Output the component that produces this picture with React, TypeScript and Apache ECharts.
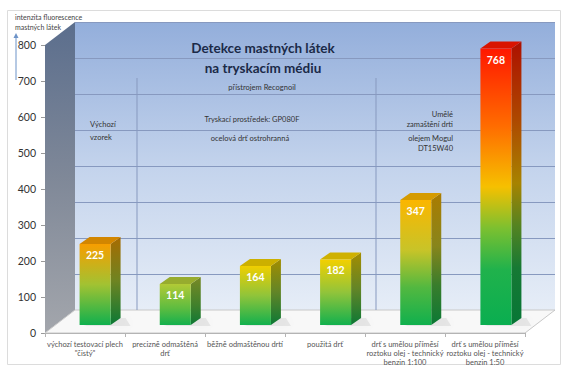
import React, { useEffect, useRef } from "react";
import * as echarts from "echarts";

const categories = [
  "výchozí testovací plech\n\"čistý\"",
  "precizně odmaštěná\ndrť",
  "běžně odmaštěnou drtí",
  "použitá drť",
  "drť s umělou příměsí\nroztoku olej - technický\nbenzin 1:100",
  "drť s umělou příměsí\nroztoku olej - technický\nbenzin 1:50",
];
const values = [225, 114, 164, 182, 347, 768];
const yTicks = { min: 0, max: 800, interval: 100 };

// per-bar gradient stops (top -> bottom)
const barStops: [number, string][][] = [
  [[0, "#f79e00"], [0.5, "#a2c232"], [1, "#10b04e"]],
  [[0, "#b2ca36"], [0.6, "#5cbc40"], [1, "#14b04e"]],
  [[0, "#f0cf00"], [0.5, "#90c43a"], [1, "#12b04e"]],
  [[0, "#f3d000"], [0.5, "#92c43a"], [1, "#12b04e"]],
  [[0, "#fbb600"], [0.4, "#c8c428"], [0.7, "#52b840"], [1, "#10b04e"]],
  [[0, "#ff1800"], [0.28, "#ff6c00"], [0.5, "#f6c000"], [0.65, "#7cc030"], [0.8, "#20b24c"], [1, "#0aae50"]],
];

const FONT = "Lato, 'Open Sans', sans-serif";

function shade(hex: string, f: number): string {
  const n = parseInt(hex.slice(1), 16);
  const r = Math.round(((n >> 16) & 255) * f);
  const g = Math.round(((n >> 8) & 255) * f);
  const b = Math.round((n & 255) * f);
  return "rgb(" + r + "," + g + "," + b + ")";
}

export default function App() {
  const ref = useRef<HTMLDivElement>(null);
  useEffect(() => {
    if (!ref.current) return;
    const chart = echarts.init(ref.current, null, { renderer: "svg" });
    const grad = (stops: [number, string][], f: number) =>
      new echarts.graphic.LinearGradient(
        0, 0, 0, 1,
        stops.map(([o, c]) => ({ offset: o, color: f === 1 ? c : shade(c, f) }))
      );

    const option: any = {
      animation: false,
      grid: [
        {
          left: 75, top: 22, width: 480, height: 288, show: true, borderWidth: 0,
          backgroundColor: new echarts.graphic.LinearGradient(0, 0, 0, 1, [
            { offset: 0, color: "#93aedb" },
            { offset: 0.5, color: "#c3d3ec" },
            { offset: 1, color: "#e6edf7" },
          ]),
        },
        { left: 45, top: 45, width: 480, height: 288 },
        { left: 55, top: 37, width: 481, height: 288 },
      ],
      xAxis: [
        { type: "category", gridIndex: 0, data: categories, show: false },
        {
          type: "category", gridIndex: 1, data: categories,
          axisLine: { show: true, lineStyle: { color: "#b4b4b4" } },
          axisTick: { show: true, length: 4, lineStyle: { color: "#b4b4b4" } },
          axisLabel: { interval: 0, fontSize: 7.5, lineHeight: 9, color: "#555", margin: 7, fontFamily: FONT },
          z: 6,
        },
        { type: "category", gridIndex: 2, data: categories, show: false },
      ],
      yAxis: [
        {
          type: "value", gridIndex: 0, ...yTicks,
          axisLabel: { show: false }, axisLine: { show: false }, axisTick: { show: false },
          splitLine: { show: true, lineStyle: { color: "#8799bf", width: 1 } },
        },
        {
          type: "value", gridIndex: 1, ...yTicks,
          axisLine: { show: false },
          axisTick: { show: true, length: 4, lineStyle: { color: "#999" } },
          axisLabel: { fontSize: 10.5, color: "#333", margin: 9, fontFamily: FONT },
          splitLine: { show: false },
        },
        { type: "value", gridIndex: 2, ...yTicks, show: false, splitLine: { show: false } },
      ],
      graphic: [
        // frame
        { type: "rect", shape: { x: 7.5, y: 10.5, width: 553, height: 354 }, style: { fill: "none", stroke: "#dcdcdc", lineWidth: 1 }, z: 1 },
        // side wall
        {
          type: "polygon", z: 1,
          shape: { points: [[45, 45], [75, 22], [75, 310], [45, 333]] },
          style: {
            fill: new echarts.graphic.LinearGradient(0, 0, 0, 1, [
              { offset: 0, color: "#5b6e8d" },
              { offset: 0.5, color: "#7f8898" },
              { offset: 1, color: "#a3a6ac" },
            ]),
          },
        },
        // floor
        {
          type: "polygon", z: 1,
          shape: { points: [[45, 333], [525, 333], [555, 310], [75, 310]] },
          style: { fill: "#f8f8f8", stroke: "#c8c8c8", lineWidth: 1 },
        },
        // group separators on back wall
        { type: "line", z: 2, shape: { x1: 137, y1: 78, x2: 137, y2: 310 }, style: { stroke: "#8799bf", lineWidth: 1 } },
        { type: "line", z: 2, shape: { x1: 376, y1: 78, x2: 376, y2: 310 }, style: { stroke: "#8799bf", lineWidth: 1 } },
        // title
        { type: "text", z: 5, style: { text: "Detekce mastných látek", x: 263, y: 48, align: "center", verticalAlign: "middle", font: "bold 13.5px " + FONT, fill: "#1b2a48" } },
        { type: "text", z: 5, style: { text: "na tryskacím médiu", x: 263, y: 68, align: "center", verticalAlign: "middle", font: "bold 13.5px " + FONT, fill: "#1b2a48" } },
        { type: "text", z: 5, style: { text: "přístrojem Recognoil", x: 262, y: 87, align: "center", verticalAlign: "middle", font: "7.5px " + FONT, fill: "#333" } },
        { type: "text", z: 5, style: { text: "Tryskací prostředek: GP080F", x: 252, y: 119, align: "center", verticalAlign: "middle", font: "7.5px " + FONT, fill: "#333" } },
        { type: "text", z: 5, style: { text: "ocelová drť ostrohranná", x: 250, y: 138, align: "center", verticalAlign: "middle", font: "7.5px " + FONT, fill: "#333" } },
        { type: "text", z: 5, style: { text: "Výchozí", x: 90, y: 124, align: "left", verticalAlign: "middle", font: "7.5px " + FONT, fill: "#333" } },
        { type: "text", z: 5, style: { text: "vzorek", x: 90, y: 137, align: "left", verticalAlign: "middle", font: "7.5px " + FONT, fill: "#333" } },
        { type: "text", z: 5, style: { text: "Umělé", x: 453, y: 114, align: "right", verticalAlign: "middle", font: "7.5px " + FONT, fill: "#333" } },
        { type: "text", z: 5, style: { text: "zamaštění drti", x: 453, y: 124, align: "right", verticalAlign: "middle", font: "7.5px " + FONT, fill: "#333" } },
        { type: "text", z: 5, style: { text: "olejem Mogul", x: 453, y: 138, align: "right", verticalAlign: "middle", font: "7.5px " + FONT, fill: "#333" } },
        { type: "text", z: 5, style: { text: "DT15W40", x: 453, y: 148, align: "right", verticalAlign: "middle", font: "7.5px " + FONT, fill: "#333" } },
        // y axis title
        { type: "text", z: 5, style: { text: "intenzita fluorescence", x: 15, y: 17, align: "left", verticalAlign: "middle", font: "7px " + FONT, fill: "#444" } },
        { type: "text", z: 5, style: { text: "mastných látek", x: 15, y: 27, align: "left", verticalAlign: "middle", font: "7px " + FONT, fill: "#444" } },
        { type: "line", z: 5, shape: { x1: 16, y1: 36, x2: 16, y2: 80 }, style: { stroke: "#6d93c8", lineWidth: 1 } },
        { type: "polygon", z: 5, shape: { points: [[16, 33], [13.5, 38], [18.5, 38]] }, style: { fill: "#6d93c8" } },
      ],
      series: [
        {
          type: "custom",
          xAxisIndex: 2,
          yAxisIndex: 2,
          z: 10,
          data: values.map((v, i) => [i, v]),
          renderItem: (params: any, api: any) => {
            const i = params.dataIndex;
            const v = api.value(1);
            const top = api.coord([api.value(0), v]);
            const base = api.coord([api.value(0), 0]);
            const w = 31, dx = 10, dy = 7;
            const x0 = top[0] - w / 2, x1 = top[0] + w / 2;
            const yt = top[1], yb = base[1];
            const stops = barStops[i];
            return {
              type: "group",
              children: [
                {
                  type: "polygon",
                  shape: { points: [[x0 + 4, yb + 1], [x1 + dx + 10, yb + 1], [x1 + dx + 5, yb - dy], [x1, yb - dy]] },
                  style: { fill: "rgba(0,0,0,0.07)", shadowBlur: 8, shadowColor: "rgba(0,0,0,0.3)" },
                },
                {
                  type: "polygon",
                  shape: { points: [[x1, yt], [x1 + dx, yt - dy], [x1 + dx, yb - dy], [x1, yb]] },
                  style: { fill: grad(stops, 0.68) },
                },
                {
                  type: "polygon",
                  shape: { points: [[x0, yt], [x0 + dx, yt - dy], [x1 + dx, yt - dy], [x1, yt]] },
                  style: { fill: shade(stops[0][1], 0.85) },
                },
                {
                  type: "rect",
                  shape: { x: x0, y: yt, width: w, height: yb - yt },
                  style: { fill: grad(stops, 1) },
                },
                {
                  type: "text",
                  style: {
                    text: String(v), x: top[0], y: yt + 11, align: "center", verticalAlign: "middle",
                    font: "bold 10.5px " + FONT, fill: "#ffffff",
                  },
                },
              ],
            };
          },
        },
      ],
    };
    chart.setOption(option);
    return () => chart.dispose();
  }, []);
  return (
    <div
      ref={ref}
      style={{ position: "fixed", left: 0, top: 0, width: 566, height: 370, background: "#ffffff" }}
    />
  );
}
